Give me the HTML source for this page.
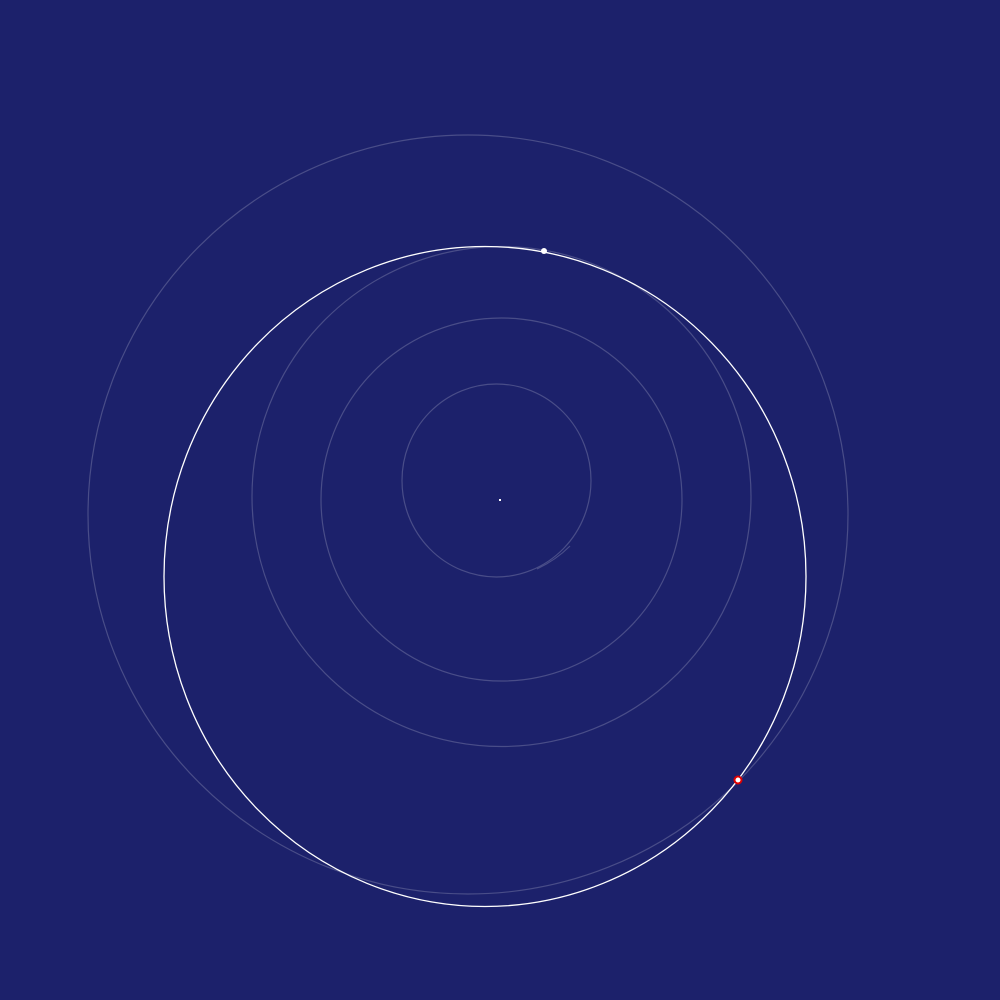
<!DOCTYPE html>
<html><head><meta charset="utf-8"><style>
html,body{margin:0;padding:0;background:#1c216b;}
svg{display:block;}
</style></head><body>
<svg id="chart" width="1000" height="1000" viewBox="0 0 1000 1000" xmlns="http://www.w3.org/2000/svg">
<rect width="1000" height="1000" fill="#1c216b"/>
</svg>
<script>
// faint orbits: [cx, cy, rx, ry]
const faintOrbitNames = ['orbit-inner','orbit-second','orbit-third','orbit-outer'];
const faintOrbitCx = [496.5, 501.5, 501.5, 468];
const faintOrbitCy = [480.5, 499.5, 496.5, 514.5];
const faintOrbitRx = [94.5, 180.5, 249.5, 380];
const faintOrbitRy = [96.5, 181.5, 250, 379.5];
// highlighted orbit
const mainOrbit = [485, 576.5, 321, 330];
// markers [x, y]
const bodyPos = [544, 251];
const targetPos = [738, 780];
const centerPos = [500, 500];

const NS = 'http://www.w3.org/2000/svg';
const svg = document.getElementById('chart');
function mk(tag, attrs){const e=document.createElementNS(NS,tag);for(const k in attrs)e.setAttribute(k,attrs[k]);svg.appendChild(e);return e;}

for (let i=0;i<faintOrbitCx.length;i++){
  const e = mk('ellipse',{cx:faintOrbitCx[i],cy:faintOrbitCy[i],rx:faintOrbitRx[i],ry:faintOrbitRy[i],fill:'none',stroke:'rgba(255,255,255,0.2)','stroke-width':1.2});
  
  
}
// small transfer arc near inner orbit
const arc = mk('path',{d:'M537 569 Q556 560 570 546',fill:'none',stroke:'rgba(255,255,255,0.2)','stroke-width':1.2});



const mo = mk('ellipse',{cx:mainOrbit[0],cy:mainOrbit[1],rx:mainOrbit[2],ry:mainOrbit[3],fill:'none',stroke:'#ffffff','stroke-width':1.3});



const c = mk('rect',{x:centerPos[0]-1,y:centerPos[1]-1,width:2,height:2,fill:'#ffffff'});



const b = mk('circle',{cx:bodyPos[0],cy:bodyPos[1],r:3,fill:'#ffffff'});



const t = mk('circle',{cx:targetPos[0],cy:targetPos[1],r:3.5,fill:'#ffffff',stroke:'#e00000','stroke-width':2});


</script>
</body></html>
